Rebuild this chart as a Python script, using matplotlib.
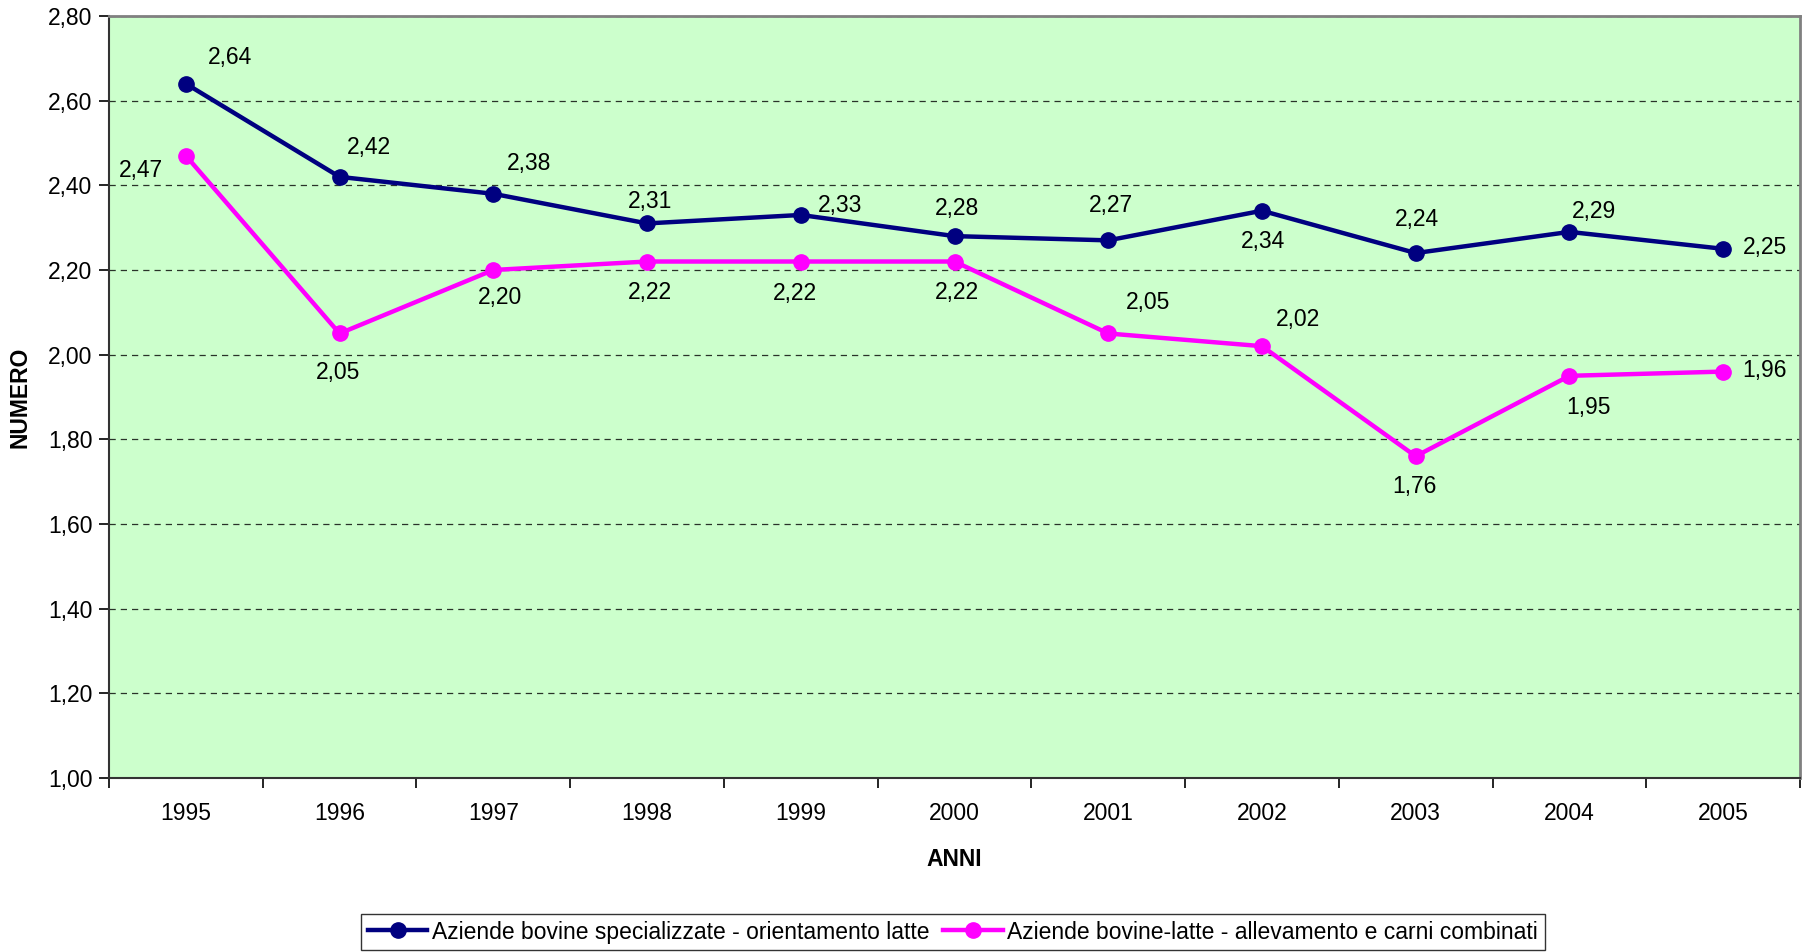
import numpy as np
import matplotlib
matplotlib.use('Agg')
import matplotlib.pyplot as plt
from matplotlib.ticker import FixedLocator, FuncFormatter

# Dati
anni = ['1995', '1996', '1997', '1998', '1999', '2000', '2001', '2002', '2003', '2004', '2005']
spec_latte = [2.64, 2.42, 2.38, 2.31, 2.33, 2.28, 2.27, 2.34, 2.24, 2.29, 2.25]
latte_carni = [2.47, 2.05, 2.20, 2.22, 2.22, 2.22, 2.05, 2.02, 1.76, 1.95, 1.96]
nome_spec = 'Aziende bovine specializzate - orientamento latte'
nome_comb = 'Aziende bovine-latte - allevamento e carni combinati'

# spostamenti delle etichette (in punti)
off_spec = [(32, 19), (21, 21), (26, 22), (2, 16), (28, 7), (2, 20),
            (2, 25), (1, -22), (1, 24), (18, 15), (30, 1)]
off_comb = [(-32, -11), (-1, -28), (5, -20), (2, -22), (-4, -23), (2, -22),
            (29, 22), (26, 19), (-1, -22), (14, -23), (30, 1)]

FS = 16.5
plt.rcParams['font.family'] = ['Liberation Sans', 'DejaVu Sans']

fig = plt.figure(figsize=(18.10, 9.52), dpi=100)
ax = fig.add_axes([0.0602, 0.1828, 0.9343, 0.8004])
ax.set_facecolor('#CCFFCC')

x = np.arange(len(anni))
ax.plot(x, spec_latte, color='#000080', lw=3.2, marker='o', ms=11, label=nome_spec, zorder=3)
ax.plot(x, latte_carni, color='#FF00FF', lw=3.2, marker='o', ms=11, label=nome_comb, zorder=3)

fmt = lambda v: f'{v:.2f}'.replace('.', ',')
for i in range(len(anni)):
    ax.annotate(fmt(spec_latte[i]), (x[i], spec_latte[i]), xytext=off_spec[i],
                textcoords='offset points', ha='center', va='center', fontsize=FS)
    ax.annotate(fmt(latte_carni[i]), (x[i], latte_carni[i]), xytext=off_comb[i],
                textcoords='offset points', ha='center', va='center', fontsize=FS)

ax.set_xlim(-0.5, len(anni) - 0.5)
ax.set_ylim(1.0, 2.8)
ax.yaxis.set_major_locator(FixedLocator(np.arange(1.0, 2.81, 0.2)))
ax.yaxis.set_major_formatter(FuncFormatter(lambda v, p: fmt(v)))
ax.grid(axis='y', color='black', ls=(0, (5, 4)), lw=0.9, alpha=0.8)
ax.set_axisbelow(True)

ax.set_xticks(np.arange(-0.5, len(anni), 1.0))
ax.set_xticklabels([])
ax.set_xticks(x, minor=True)
ax.set_xticklabels(anni, minor=True)
ax.tick_params(axis='x', which='major', direction='out', length=7, width=1.2)
ax.tick_params(axis='x', which='minor', length=0, pad=17, labelsize=FS)
ax.tick_params(axis='y', direction='out', length=7, width=1.2, labelsize=FS, pad=5)

for s in ['top', 'right']:
    ax.spines[s].set_color('#808080')
    ax.spines[s].set_linewidth(2)
for s in ['left', 'bottom']:
    ax.spines[s].set_color('#333333')
    ax.spines[s].set_linewidth(1.5)

ax.set_xlabel('ANNI', fontsize=FS, fontweight='bold', labelpad=17)
ax.set_ylabel('NUMERO', fontsize=FS, fontweight='bold', labelpad=12)

leg = fig.legend(loc='center', bbox_to_anchor=(0.5265, 0.021), ncol=2, fontsize=FS,
                 frameon=True, fancybox=False, edgecolor='black', handlelength=2.6,
                 handletextpad=0.2, columnspacing=0.6, borderpad=0.3)
leg.get_frame().set_linewidth(1.0)

fig.savefig('out.png', dpi=100)
plt.close()
